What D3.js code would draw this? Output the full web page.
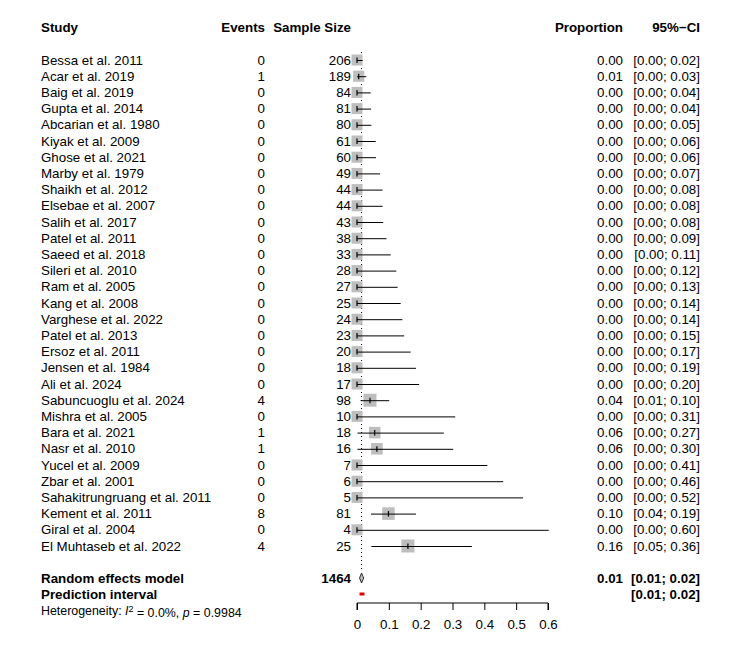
<!DOCTYPE html>
<html><head><meta charset="utf-8">
<script src="https://cdn.jsdelivr.net/npm/d3@7"></script>
<style>body{margin:0;background:#fff}svg{display:block}</style>
</head><body>
<script>
const studies = ["Bessa et al. 2011","Acar et al. 2019","Baig et al. 2019","Gupta et al. 2014","Abcarian et al. 1980","Kiyak et al. 2009","Ghose et al. 2021","Marby et al. 1979","Shaikh et al. 2012","Elsebae et al. 2007","Salih et al. 2017","Patel et al. 2011","Saeed et al. 2018","Sileri et al. 2010","Ram et al. 2005","Kang et al. 2008","Varghese et al. 2022","Patel et al. 2013","Ersoz et al. 2011","Jensen et al. 1984","Ali et al. 2024","Sabuncuoglu et al. 2024","Mishra et al. 2005","Bara et al. 2021","Nasr et al. 2010","Yucel et al. 2009","Zbar et al. 2001","Sahakitrungruang et al. 2011","Kement et al. 2011","Giral et al. 2004","El Muhtaseb et al. 2022"];
const events = [0,1,0,0,0,0,0,0,0,0,0,0,0,0,0,0,0,0,0,0,0,4,0,1,1,0,0,0,8,0,4];
const sampleSize = [206,189,84,81,80,61,60,49,44,44,43,38,33,28,27,25,24,23,20,18,17,98,10,18,16,7,6,5,81,4,25];
const proportion = [0,0.0053,0,0,0,0,0,0,0,0,0,0,0,0,0,0,0,0,0,0,0,0.0408,0,0.0556,0.0625,0,0,0,0.0988,0,0.16];
const ciLower = [0,0.0001,0,0,0,0,0,0,0,0,0,0,0,0,0,0,0,0,0,0,0,0.0112,0,0.0014,0.0016,0,0,0,0.0437,0,0.0454];
const ciUpper = [0.0178,0.0291,0.043,0.0445,0.0451,0.0587,0.0596,0.0725,0.0804,0.0804,0.0822,0.0925,0.1058,0.1234,0.1277,0.1372,0.1425,0.1482,0.1684,0.1853,0.1951,0.1013,0.3085,0.2729,0.3023,0.4096,0.4593,0.5218,0.1852,0.6024,0.3608];
const weights = [3.0,3.1,3.0,3.0,3.0,3.0,3.0,3.0,3.0,3.0,3.0,3.0,3.0,3.0,3.0,3.0,3.0,3.0,3.0,3.0,3.0,4.2,3.0,3.3,3.3,3.0,3.0,3.0,3.9,3.0,4.2];
const propLabels = ["0.00","0.01","0.00","0.00","0.00","0.00","0.00","0.00","0.00","0.00","0.00","0.00","0.00","0.00","0.00","0.00","0.00","0.00","0.00","0.00","0.00","0.04","0.00","0.06","0.06","0.00","0.00","0.00","0.10","0.00","0.16"];
const ciLabels = ["[0.00; 0.02]","[0.00; 0.03]","[0.00; 0.04]","[0.00; 0.04]","[0.00; 0.05]","[0.00; 0.06]","[0.00; 0.06]","[0.00; 0.07]","[0.00; 0.08]","[0.00; 0.08]","[0.00; 0.08]","[0.00; 0.09]","[0.00; 0.11]","[0.00; 0.12]","[0.00; 0.13]","[0.00; 0.14]","[0.00; 0.14]","[0.00; 0.15]","[0.00; 0.17]","[0.00; 0.19]","[0.00; 0.20]","[0.01; 0.10]","[0.00; 0.31]","[0.00; 0.27]","[0.00; 0.30]","[0.00; 0.41]","[0.00; 0.46]","[0.00; 0.52]","[0.04; 0.19]","[0.00; 0.60]","[0.05; 0.36]"];
const pooled = {est: 0.0143, lower: 0.0080, upper: 0.0210, predLower: 0.0080, predUpper: 0.0235, total: 1464, label: "0.01", ciLabel: "[0.01; 0.02]", predLabel: "[0.01; 0.02]"};
const xTicks = [0,0.1,0.2,0.3,0.4,0.5,0.6];

const W = 742, H = 650;
const FONT = "'Liberation Sans', Arial, Helvetica, sans-serif";
const svg = d3.select("body").append("svg").attr("width", W).attr("height", H)
  .style("font-family", FONT).style("font-size", "13.33px");

const x = d3.scaleLinear().domain([0, 0.6]).range([357, 548]);
const rowY = d3.scaleLinear().domain([0, studies.length - 1]).range([60, 546]);
const yRE = 578, yPI = 594;
const colStudy = 41, colEvents = 265, colN = 351, colProp = 623, colCI = 700;

function txt(xp, yp, s, anchor, bold) {
  return svg.append("text").attr("x", xp).attr("y", yp).attr("dy", "0.35em")
    .attr("text-anchor", anchor).attr("font-weight", bold ? "bold" : "normal").attr("fill", "#000").text(s);
}

// headers
txt(colStudy, 27, "Study", "start", true);
txt(colEvents, 27, "Events", "end", true);
txt(colN, 27, "Sample Size", "end", true);
txt(colProp, 27, "Proportion", "end", true);
txt(colCI, 27, "95%\u2212CI", "end", true);

// dotted summary line
svg.append("line").attr("x1", x(pooled.est)).attr("x2", x(pooled.est))
  .attr("y1", rowY(0) - 8).attr("y2", yRE - 6)
  .attr("stroke", "#000").attr("stroke-width", 1).attr("stroke-dasharray", "1,3");

const sizeScale = d3.scaleSqrt().domain([0, 3.0]).range([0, 11]);

studies.forEach((s, i) => {
  const y = rowY(i);
  txt(colStudy, y, s, "start");
  txt(colEvents, y, events[i], "end");
  txt(colN, y, sampleSize[i], "end");
  txt(colProp, y, propLabels[i], "end");
  txt(colCI, y, ciLabels[i], "end");
  const sz = sizeScale(weights[i]);
  const cx = x(proportion[i]);
  svg.append("rect").attr("x", cx - sz / 2).attr("y", y - sz / 2).attr("width", sz).attr("height", sz)
    .attr("fill", "#bebebe");
  const inside = x(ciLower[i]) >= cx - sz / 2 && x(ciUpper[i]) <= cx + sz / 2;
  const col = inside ? "#fff" : "#000";
  svg.append("line").attr("x1", x(ciLower[i])).attr("x2", x(ciUpper[i]))
    .attr("y1", y + 0.5).attr("y2", y + 0.5).attr("stroke", col).attr("stroke-width", 1);
  svg.append("line").attr("x1", cx).attr("x2", cx).attr("y1", y - 2.5).attr("y2", y + 3)
    .attr("stroke", col).attr("stroke-width", 1.2);
});

// random effects diamond
const dh = 5;
svg.append("path").attr("d", `M${x(pooled.lower)},${yRE} L${x(pooled.est)},${yRE - dh} L${x(pooled.upper)},${yRE} L${x(pooled.est)},${yRE + dh} Z`)
  .attr("fill", "#bebebe").attr("stroke", "#000").attr("stroke-width", 0.8);
txt(colStudy, yRE, "Random effects model", "start", true);
txt(colN, yRE, pooled.total, "end", true);
txt(colProp, yRE, pooled.label, "end", true);
txt(colCI, yRE, pooled.ciLabel, "end", true);

// prediction interval
svg.append("rect").attr("x", x(pooled.predLower)).attr("y", yPI - 1.5)
  .attr("width", x(pooled.predUpper) - x(pooled.predLower)).attr("height", 3).attr("fill", "#e00000");
txt(colStudy, yPI, "Prediction interval", "start", true);
txt(colCI, yPI, pooled.predLabel, "end", true);

// heterogeneity
const het = svg.append("text").attr("x", colStudy).attr("y", 611).attr("dy", "0.35em").style("font-size", "12.4px");
het.append("tspan").text("Heterogeneity: ");
het.append("tspan").attr("font-style", "italic").text("I");
het.append("tspan").attr("dy", "-0.4em").style("font-size", "9px").text("2");
het.append("tspan").attr("dy", "0.4em").text(" = 0.0%, ");
het.append("tspan").attr("font-style", "italic").text("p");
het.append("tspan").text(" = 0.9984");

// axis
const axis = d3.axisBottom(x).tickValues(xTicks).tickSize(7).tickPadding(10)
  .tickFormat(d => d === 0 ? "0" : d3.format(".1f")(d));
const ag = svg.append("g").attr("transform", "translate(0,603)").call(axis);
ag.select(".domain").attr("d", `M${x(0)},7V0H${x(0.6)}V7`).attr("stroke", "#000");
ag.selectAll(".tick line").attr("stroke", "#000");
ag.selectAll(".tick text").style("font-size", "13.33px").style("font-family", FONT).attr("fill", "#000");
</script>
</body></html>
